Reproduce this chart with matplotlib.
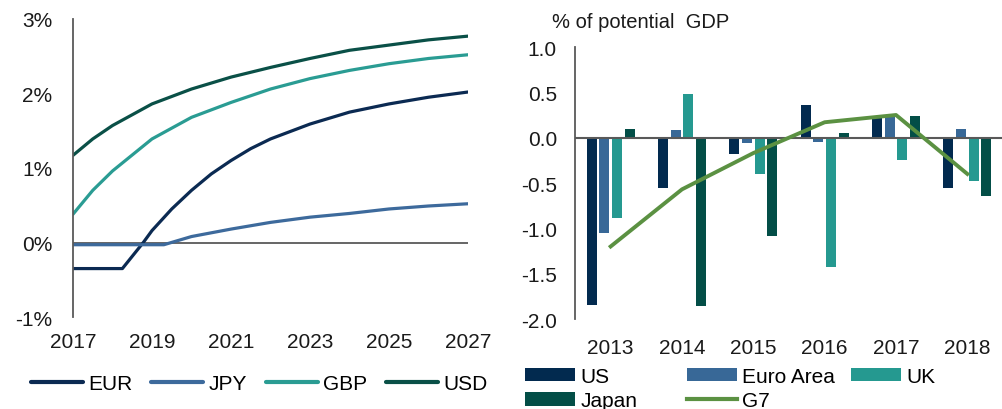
import matplotlib
matplotlib.use("Agg")
import matplotlib.pyplot as plt
import numpy as np

plt.rcParams["font.family"] = ["Liberation Sans", "DejaVu Sans"]

# left panel: rate paths
eur_x = [2017, 2018.25, 2018.78, 2019, 2019.5, 2020, 2020.5, 2021, 2021.5, 2022, 2023, 2024, 2025, 2026, 2027]
eur_y = [-0.35, -0.35, 0.0, 0.16, 0.45, 0.70, 0.92, 1.10, 1.26, 1.39, 1.59, 1.75, 1.86, 1.95, 2.02]
jpy_x = [2017, 2019.3, 2020, 2021, 2022, 2023, 2024, 2025, 2026, 2027]
jpy_y = [-0.03, -0.03, 0.08, 0.18, 0.27, 0.34, 0.39, 0.45, 0.49, 0.52]
gbp_x = [2017, 2017.5, 2018, 2019, 2020, 2021, 2022, 2023, 2024, 2025, 2026, 2027]
gbp_y = [0.38, 0.70, 0.96, 1.39, 1.68, 1.88, 2.06, 2.20, 2.31, 2.40, 2.47, 2.52]
usd_x = [2017, 2017.5, 2018, 2019, 2020, 2021, 2022, 2023, 2024, 2025, 2026, 2027]
usd_y = [1.17, 1.39, 1.57, 1.86, 2.06, 2.22, 2.35, 2.47, 2.58, 2.65, 2.72, 2.77]

# right panel: output gaps
years = ["2013", "2014", "2015", "2016", "2017", "2018"]
us = [-1.85, -0.56, -0.185, 0.36, 0.24, -0.56]
euro_area = [-1.05, 0.085, -0.055, -0.045, 0.24, 0.10]
uk = [-0.89, 0.48, -0.40, -1.43, -0.245, -0.48]
japan = [0.10, -1.86, -1.08, 0.055, 0.24, -0.64]
g7 = [-1.20, -0.57, -0.17, 0.17, 0.25, -0.40]

c_eur = "#0b2a52"
c_jpy = "#3d6a9c"
c_gbp = "#2a9c93"
c_usd = "#0a5047"
c_g7 = "#5b9142"
grey = "#595959"
fs = 15

fig = plt.figure(figsize=(10.03, 4.10), dpi=100)

# ---- left
ax1 = fig.add_axes([73 / 1003, 1 - 318 / 410, (468 - 73) / 1003, (318 - 20) / 410])
ax1.plot(eur_x, eur_y, color=c_eur, lw=2.3, label="EUR", solid_capstyle="round")
ax1.plot(jpy_x, jpy_y, color=c_jpy, lw=2.3, label="JPY", solid_capstyle="round")
ax1.plot(gbp_x, gbp_y, color=c_gbp, lw=2.3, label="GBP", solid_capstyle="round")
ax1.plot(usd_x, usd_y, color=c_usd, lw=2.3, label="USD", solid_capstyle="round")
ax1.axhline(0, color=grey, lw=1.3, zorder=0)
ax1.set_xlim(2017, 2027)
ax1.set_ylim(-1, 3)
ax1.set_xticks(range(2017, 2028, 2))
ax1.set_yticks([-1, 0, 1, 2, 3])
ax1.set_yticklabels(["-1%", "0%", "1%", "2%", "3%"])
for s in ["top", "right", "bottom"]:
    ax1.spines[s].set_visible(False)
ax1.spines["left"].set_color(grey)
ax1.spines["left"].set_linewidth(1.3)
ax1.tick_params(axis="both", length=0, labelsize=fs, colors="#1a1a1a")
ax1.tick_params(axis="x", pad=11)
ax1.tick_params(axis="y", pad=15)
ax1.patch.set_visible(False)

leg1 = fig.legend(handles=ax1.get_lines()[:4], loc="center left", bbox_to_anchor=(31 / 1003, 1 - 385 / 410),
                  ncol=4, frameon=False, fontsize=fs, handlelength=2.5, handletextpad=0.25,
                  columnspacing=0.9, borderpad=0, borderaxespad=0)
for h in leg1.get_lines():
    h.set_linewidth(3.0)

# ---- right
ax2 = fig.add_axes([575 / 1003, 1 - 320 / 410, (1003 - 575) / 1003, (320 - 48) / 410])
xpos = np.arange(len(years))
slot = 0.178
bw = 0.14
b1 = ax2.bar(xpos - 1.5 * slot, us, bw, color="#022a4f", label="US")
b2 = ax2.bar(xpos - 0.5 * slot, euro_area, bw, color="#386897", label="Euro Area")
b3 = ax2.bar(xpos + 0.5 * slot, uk, bw, color="#259990", label="UK")
b4 = ax2.bar(xpos + 1.5 * slot, japan, bw, color="#034e47", label="Japan")
ln, = ax2.plot(xpos, g7, color=c_g7, lw=2.8, label="G7", zorder=5)
ax2.axhline(0, color=grey, lw=1.5, zorder=4)
ax2.set_xlim(-0.5, 5.5)
ax2.set_ylim(-2, 1)
ax2.set_xticks(xpos)
ax2.set_xticklabels(years)
ax2.set_yticks([-2, -1.5, -1, -0.5, 0, 0.5, 1])
ax2.set_yticklabels([f"{v:.1f}" for v in [-2, -1.5, -1, -0.5, 0, 0.5, 1]])
for s in ["top", "right", "bottom"]:
    ax2.spines[s].set_visible(False)
ax2.spines["left"].set_color(grey)
ax2.spines["left"].set_linewidth(1.3)
ax2.tick_params(axis="both", length=0, labelsize=fs, colors="#1a1a1a")
ax2.tick_params(axis="x", pad=14)
ax2.tick_params(axis="y", pad=13)
ax2.patch.set_visible(False)

fig.text(552 / 1003, 1 - 22 / 410, "% of potential  GDP", fontsize=14.5, ha="left", va="center",
         color="#1a1a1a")

# legend laid out in fixed columns, like the source
leg_cols = [([b1, b4], 525), ([b2, ln], 687), ([b3], 851)]
for handles, x0 in leg_cols:
    lg = fig.legend(handles=handles, loc="upper left", bbox_to_anchor=(x0 / 1003, 1 - 368 / 410),
                    ncol=1, frameon=False, fontsize=fs, handlelength=2.4, handleheight=0.6,
                    handletextpad=0.25, labelspacing=0.26, borderpad=0, borderaxespad=0)
    for h in lg.get_lines():
        h.set_linewidth(3.0)

fig.savefig("out.png", dpi=100)
